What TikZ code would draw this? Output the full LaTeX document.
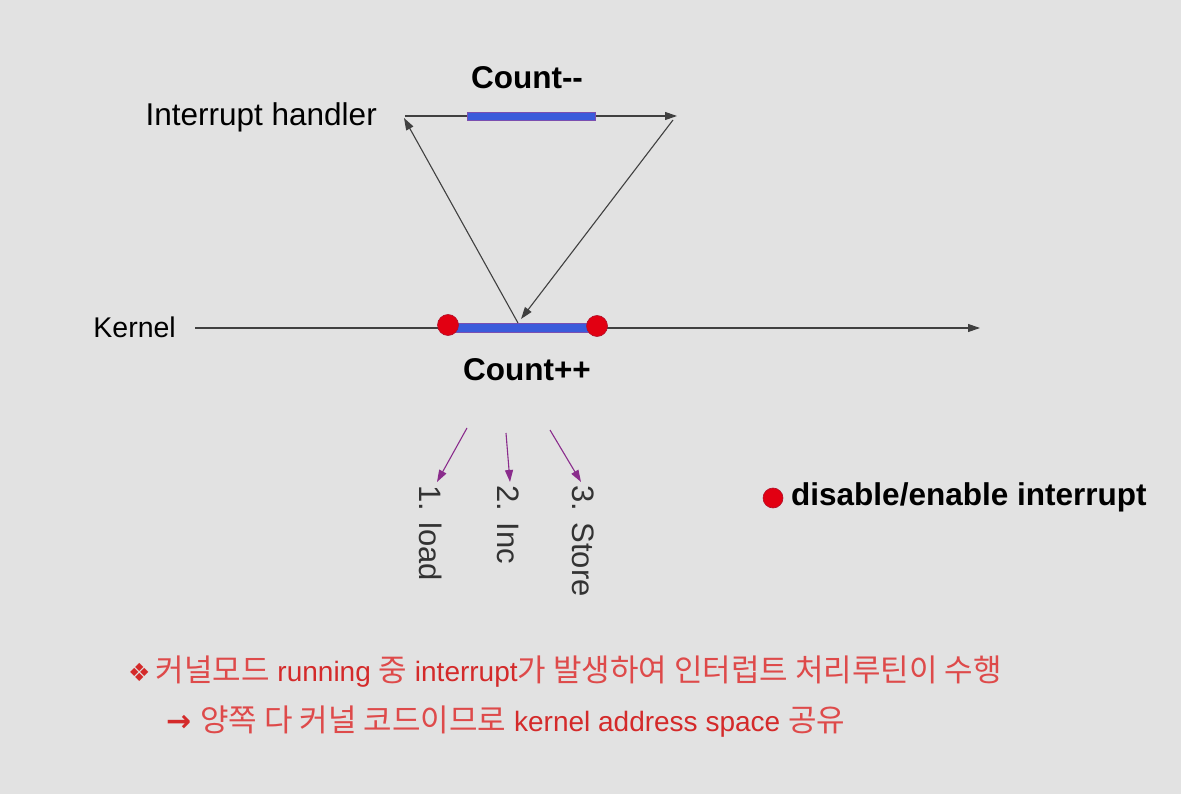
\documentclass[tikz,border=0pt]{standalone}
\usepackage{fontspec}
\setmainfont{Liberation Sans}
\newfontfamily\kor{Noto Sans CJK KR}
\newfontfamily\dejavu{DejaVu Sans}
\usetikzlibrary{arrows.meta}
\definecolor{bg}{HTML}{E2E2E2}
\definecolor{barblue}{HTML}{3B5BDB}
\definecolor{barline}{HTML}{7A4FB0}
\definecolor{dotred}{HTML}{E20012}
\definecolor{dotedge}{HTML}{B0102A}
\definecolor{txtred}{HTML}{D42A2A}
\definecolor{korred}{HTML}{DE4A4A}
\definecolor{purp}{HTML}{8A2C8C}
\newcommand\korfs{\kor\fontsize{31}{35}\selectfont\color{korred}}
\begin{document}
\begin{tikzpicture}[x=1pt,y=-1pt,
  lbl/.style={inner sep=0pt,font=\fontsize{31.5}{35}\selectfont},
  blbl/.style={inner sep=0pt,font=\fontsize{31.5}{35}\selectfont\bfseries},
  vlbl/.style={inner sep=0pt,rotate=-90,anchor=west,font=\fontsize{31}{35}\selectfont,text=black!80},
  conn/.style={draw=black!75,line width=1.1pt,-{Triangle[length=12pt,width=8pt]}},
  subarrow/.style={draw=purp,line width=1.1pt,-{Triangle[length=12pt,width=8pt]}},
  bar/.style={fill=barblue,draw=barline,line width=0.6pt},
  dot/.style={circle,fill=dotred,draw=dotedge,line width=0.6pt,minimum size=21pt,inner sep=0pt},
  note/.style={inner sep=0pt,anchor=west,text=txtred,font=\fontsize{28}{32}\selectfont}]
\fill[bg] (0,0) rectangle (1181,794);
\useasboundingbox (0,0) rectangle (1181,794);

% labels
\node[lbl,anchor=east] (ih) at (377,117) {Interrupt handler};
\node[lbl,anchor=east,font=\fontsize{28.5}{33}\selectfont] (kern) at (176,327) {Kernel};
\node[blbl] (cdec) at (527,78) {Count-{}-};
\node[blbl] (cinc) at (527,370) {Count++};

% top (interrupt handler) timeline
\coordinate (tl) at (405,116);
\coordinate (tr) at (677,116);
\draw[conn] (tl) -- (tr);
\node[bar,minimum width=128pt,minimum height=8pt,inner sep=0pt] (topbar) at (531,116) {};

% kernel timeline
\coordinate (kl) at (195,328);
\coordinate (kr) at (980,328);
\draw[conn] (kl) -- (kr);
\node[bar,minimum width=149pt,minimum height=9pt,inner sep=0pt] (kbar) at (522.5,328) {};
\node[dot] (d1) at (448,325) {};
\node[dot] (d2) at (597,326) {};

% interrupt and return
\coordinate (up0) at (518,323);
\coordinate (up1) at (404,118);
\coordinate (dn0) at (673,120);
\coordinate (dn1) at (521,319);
\draw[conn] (up0) -- (up1);
\draw[conn] (dn0) -- (dn1);

% sub steps
\coordinate (s1a) at (467,428); \coordinate (s1b) at (437,482);
\coordinate (s2a) at (506,433); \coordinate (s2b) at (510,482);
\coordinate (s3a) at (550,430); \coordinate (s3b) at (581,482);
\draw[subarrow] (s1a) -- (s1b);
\draw[subarrow] (s2a) -- (s2b);
\draw[subarrow] (s3a) -- (s3b);
\node[vlbl] (load) at (431,485) {1. load};
\node[vlbl] (inc) at (508,485) {2. Inc};
\node[vlbl] (store) at (583,485) {3. Store};

% legend
\node[dot,minimum size=20pt] (ldot) at (773,498) {};
\node[blbl,anchor=west] (ltxt) at (791,497) {disable/enable interrupt};

% notes
\node[note] (n1) at (128,672) {{\dejavu\fontsize{25}{28}\selectfont ❖}\hspace{5pt}{\korfs 커널모드} running {\korfs 중} interrupt{\korfs 가 발생하여 인터럽트 처리루틴이 수행}};
\node[note] (n2) at (166,722) {{\dejavu\bfseries\fontsize{30}{34}\selectfont →}\hspace{9pt}{\korfs 양쪽 다 커널 코드이므로} kernel address space {\korfs 공유}};
\end{tikzpicture}
\end{document}
